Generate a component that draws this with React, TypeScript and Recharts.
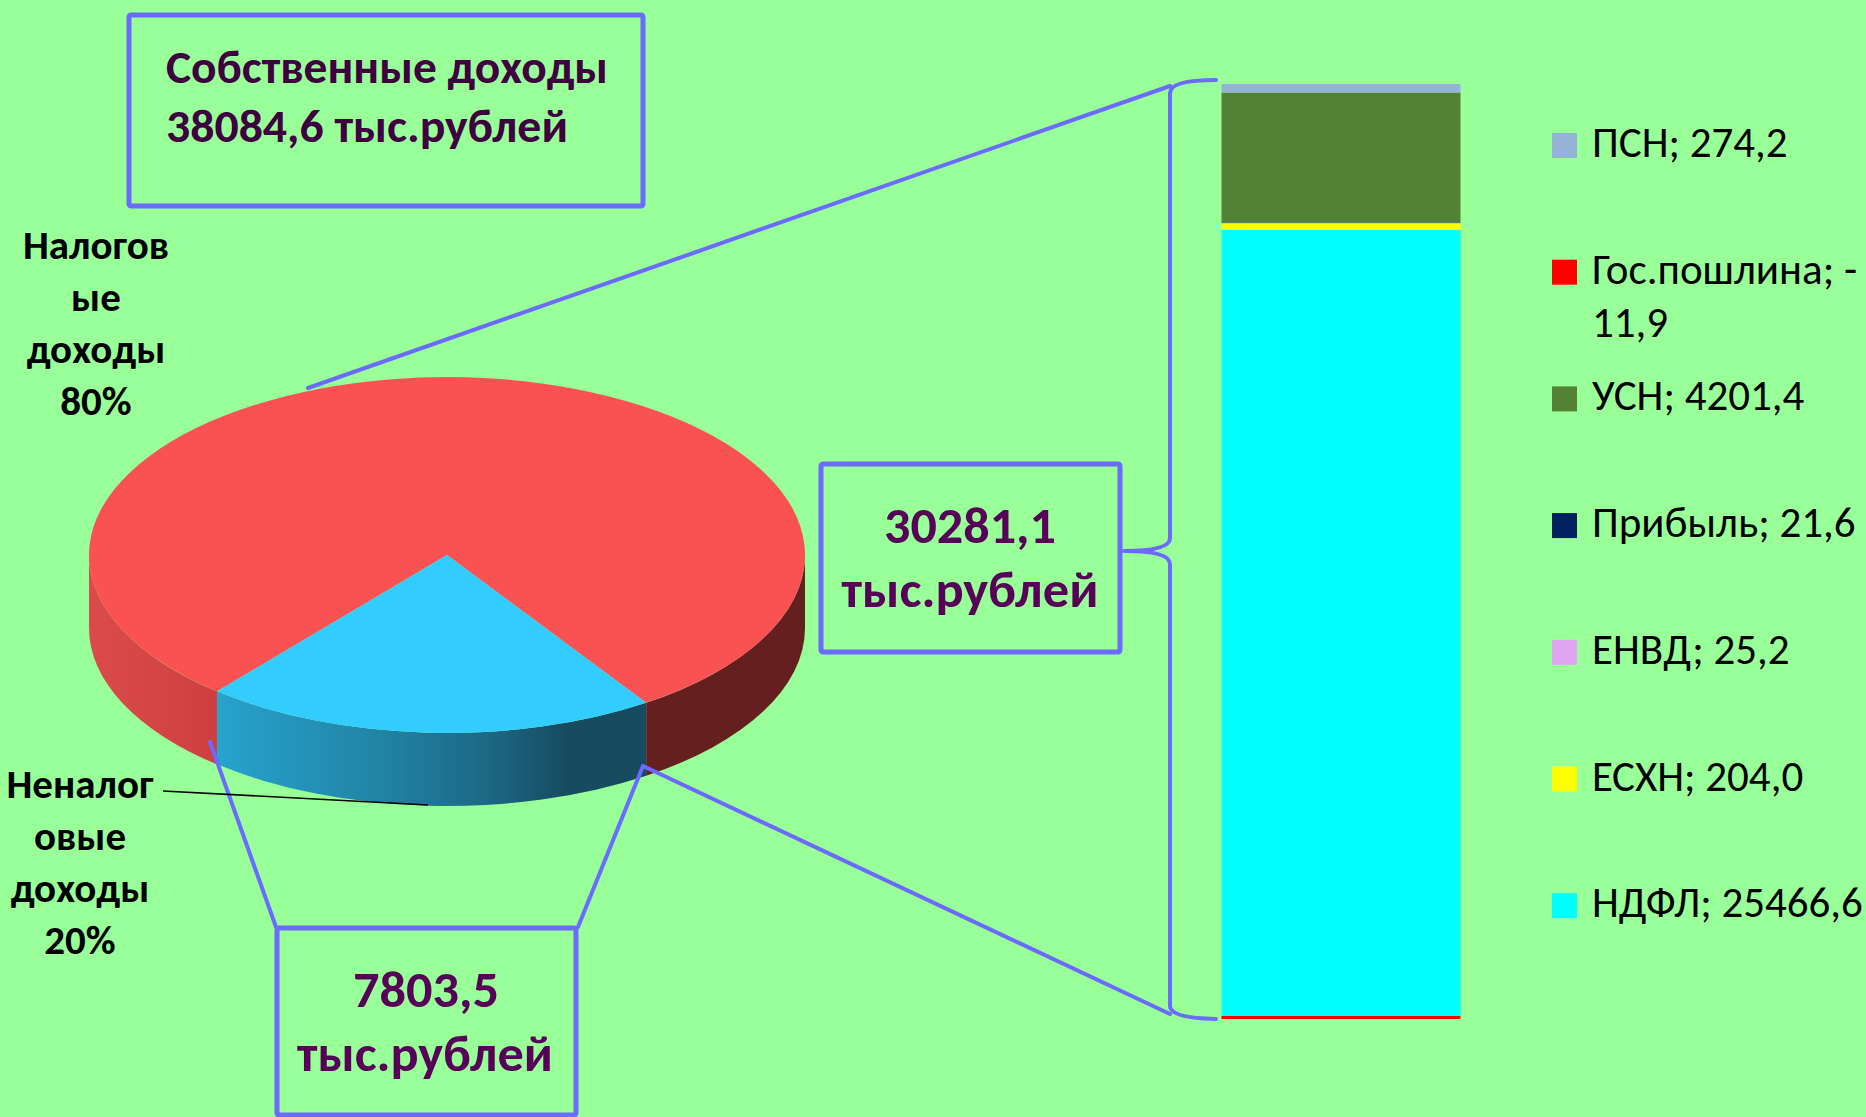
import React from "react";
import { PieChart, Pie, Cell, BarChart, Bar, XAxis, YAxis, Legend } from "recharts";

// собственные доходы (тыс. руб.)
const incomeNames = ["Налоговые доходы", "Неналоговые доходы"];
const incomeValues = [30281.1, 7803.5];
const incomeLabelLines = [
  ["Налогов", "ые", "доходы"],
  ["Неналог", "овые", "доходы"],
];
const incomeColors = ["#FA5252", "#33CCFF"];

// налоговые доходы по видам, снизу вверх
const taxKeys = ["ndfl", "eshn", "envd", "pribyl", "usn", "gos", "psn"];
const taxNames = ["НДФЛ", "ЕСХН", "ЕНВД", "Прибыль", "УСН", "Гос.пошлина", "ПСН"];
const taxValues = [25466.6, 204.0, 25.2, 21.6, 4201.4, -11.9, 274.2];
const taxColors = ["#00FFFF", "#FFFF00", "#E0A6F2", "#002060", "#548235", "#FF0000", "#95B3D7"];

const BG = "#99FF99";
const LINE = "#6B6BFF";
const FONT = "Carlito, Calibri, 'Open Sans', sans-serif";
const RAD = Math.PI / 180;
const TILT = 0.497;
const DEPTH = 73;

const fmt = (v: number) => v.toFixed(1).replace(".", ",");
const totalIncome = incomeValues.reduce((a, b) => a + b, 0);
const pct = (v: number) => `${Math.round((v / totalIncome) * 100)}%`;

const pieData = incomeNames.map((name, i) => ({ name, value: incomeValues[i] }));
const barRow: Record<string, any> = { name: incomeNames[0] };
taxKeys.forEach((k, i) => (barRow[k] = taxValues[i]));

// боковая стенка: свет слева
const wallStops: Array<Array<[number, string]>> = [
  [[0, "#DC4B4B"], [0.18, "#CD3F3F"], [0.3, "#B83838"], [0.78, "#661F1F"], [1, "#661F1F"]],
  [[0, "#2AAAD6"], [0.18, "#27A3CD"], [0.41, "#2183A5"], [0.56, "#1C6784"], [0.67, "#164B60"], [1, "#164B60"]],
];

function wrapLabel(text: string, max: number) {
  const parts = text.split(/(?<=[ -])/);
  const lines: string[] = [];
  let cur = "";
  for (const p of parts) {
    if (cur && (cur + p).trimEnd().length > max) {
      lines.push(cur.trimEnd());
      cur = p;
    } else cur += p;
  }
  if (cur) lines.push(cur.trimEnd());
  return lines;
}

function Slice3D(props: any) {
  const { cx, cy, outerRadius, startAngle, endAngle, fill } = props;
  const idx = Math.max(0, incomeColors.indexOf(fill));
  const rx = outerRadius;
  const ry = outerRadius * TILT;
  const pt = (a: number, dy = 0) =>
    `${cx + rx * Math.cos(-a * RAD)},${cy + ry * Math.sin(-a * RAD) + dy}`;
  const a0 = Math.min(startAngle, endAngle);
  const a1 = Math.max(startAngle, endAngle);
  const top = `M${cx},${cy} L${pt(a0)} A${rx},${ry} 0 ${a1 - a0 > 180 ? 1 : 0} 0 ${pt(a1)} Z`;
  const walls: string[] = [];
  for (let k = -1; k <= 1; k++) {
    const b0 = Math.max(a0, 180 + 360 * k);
    const b1 = Math.min(a1, 360 + 360 * k);
    if (b1 - b0 > 0.01)
      walls.push(
        `M${pt(b0)} A${rx},${ry} 0 0 0 ${pt(b1)} L${pt(b1, DEPTH)} A${rx},${ry} 0 0 1 ${pt(b0, DEPTH)} Z`,
      );
  }
  const id = `wall-${idx}`;
  return (
    <g>
      <defs>
        <linearGradient id={id} gradientUnits="userSpaceOnUse" x1={cx - rx} y1={0} x2={cx + rx} y2={0}>
          {wallStops[idx].map(([o, c]) => (
            <stop key={o} offset={o} stopColor={c} />
          ))}
        </linearGradient>
      </defs>
      {walls.map((d, i) => (
        <path key={i} d={d} fill={`url(#${id})`} />
      ))}
      <path d={top} fill={fill} />
    </g>
  );
}

function TaxLegend(props: any) {
  // сверху вниз — в обратном порядке стопки
  const items = [...(props.payload ?? [])].sort(
    (a: any, b: any) => taxKeys.indexOf(b.dataKey) - taxKeys.indexOf(a.dataKey),
  );
  return (
    <svg width={320} height={1000} style={{ position: "absolute", left: 0, top: 0, overflow: "visible" }}>
      {items.map((it: any, i: number) => {
        const k = taxKeys.indexOf(it.dataKey);
        const lines = wrapLabel(`${taxNames[k]}; ${fmt(taxValues[k])}`, 14);
        const y = 157 + i * 126.7;
        return (
          <g key={it.dataKey}>
            <rect x={0} y={y - 24} width={25} height={25} fill={it.color} />
            {lines.map((l, j) => (
              <text key={j} x={40} y={y + j * 53} fontFamily={FONT} fontSize={43} fill="#000">
                {l}
              </text>
            ))}
          </g>
        );
      })}
    </svg>
  );
}

export default function App() {
  const txt = { fontFamily: FONT, fontWeight: 700 } as const;
  return (
    <div style={{ position: "absolute", left: 0, top: 0, width: 1866, height: 1117, background: BG, overflow: "hidden" }}>
      <div style={{ position: "absolute", left: 0, top: 0 }}>
        <PieChart width={900} height={900} margin={{ top: 0, right: 0, bottom: 0, left: 0 }}>
          <Pie
            data={pieData}
            dataKey="value"
            nameKey="name"
            cx={447}
            cy={555}
            innerRadius={0}
            outerRadius={358}
            startAngle={-56.2}
            endAngle={303.8}
            stroke="none"
            labelLine={false}
            isAnimationActive={false}
            shape={Slice3D}
            activeShape={Slice3D}
            inactiveShape={Slice3D}
          >
            {pieData.map((d, i) => (
              <Cell key={d.name} fill={incomeColors[i]} />
            ))}
          </Pie>
        </PieChart>
      </div>

      <div style={{ position: "absolute", left: 1100, top: 0 }}>
        <BarChart
          width={766}
          height={1117}
          data={[barRow]}
          stackOffset="sign"
          barCategoryGap="0%"
          margin={{ top: 84, bottom: 100.6, left: 120.5, right: 405.5 }}
        >
          <XAxis dataKey="name" hide />
          <YAxis hide domain={["dataMin", "dataMax"]} />
          {taxKeys.map((k, i) => (
            <Bar
              key={k}
              dataKey={k}
              name={taxNames[i]}
              stackId="tax"
              fill={taxColors[i]}
              barSize={239}
              minPointSize={taxValues[i] < 0 ? 3 : 0}
              isAnimationActive={false}
            />
          ))}
          <Legend
            layout="vertical"
            align="right"
            verticalAlign="top"
            content={TaxLegend}
            wrapperStyle={{ left: 452, top: 0, right: "auto", width: 0, height: 0 }}
          />
        </BarChart>
      </div>

      <svg width={1866} height={1117} style={{ position: "absolute", left: 0, top: 0, pointerEvents: "none" }}>
        {/* выноски */}
        <g stroke={LINE} strokeWidth={4} fill="none" strokeLinecap="round">
          <line x1={308} y1={388} x2={1170} y2={86} />
          <line x1={643} y1={766} x2={1170} y2={1014} />
          <line x1={210} y1={742} x2={276} y2={927} />
          <line x1={643} y1={766} x2={578} y2={927} />
          <path d="M1216,80 Q1170,80 1170,93 L1170,538 Q1170,551 1124,551 M1124,551 Q1170,551 1170,564 L1170,1006 Q1170,1018 1216,1019" />
        </g>
        <g stroke={LINE} strokeWidth={5} fill="none">
          <rect x={129} y={15} width={514} height={191} rx={2} />
          <rect x={821} y={464} width={299} height={188} rx={2} />
          <rect x={277} y={928} width={299} height={187} rx={2} />
        </g>
        <line x1={163} y1={791} x2={428} y2={805} stroke="#000" strokeWidth={1.6} />

        <g {...txt} fill="#3F003F" fontSize={46}>
          <text x={166} y={83} textLength={442} lengthAdjust="spacingAndGlyphs">
            Собственные доходы
          </text>
          <text x={166} y={142} textLength={402} lengthAdjust="spacingAndGlyphs">
            {`${fmt(totalIncome)} тыс.рублей`}
          </text>
        </g>

        <g {...txt} fill="#570057" fontSize={51} textAnchor="middle">
          <text x={970} y={543} textLength={172} lengthAdjust="spacingAndGlyphs">{fmt(incomeValues[0])}</text>
          <text x={970} y={607} textLength={257} lengthAdjust="spacingAndGlyphs">тыс.рублей</text>
          <text x={426} y={1007} textLength={146} lengthAdjust="spacingAndGlyphs">{fmt(incomeValues[1])}</text>
          <text x={425} y={1071} textLength={256} lengthAdjust="spacingAndGlyphs">тыс.рублей</text>
        </g>

        <g {...txt} fill="#000" fontSize={41} textAnchor="middle">
          {[...incomeLabelLines[0], pct(incomeValues[0])].map((l, i) => (
            <text key={i} x={96} y={259 + i * 52}>{l}</text>
          ))}
          {[...incomeLabelLines[1], pct(incomeValues[1])].map((l, i) => (
            <text key={i} x={80} y={798 + i * 52}>{l}</text>
          ))}
        </g>
      </svg>
    </div>
  );
}
